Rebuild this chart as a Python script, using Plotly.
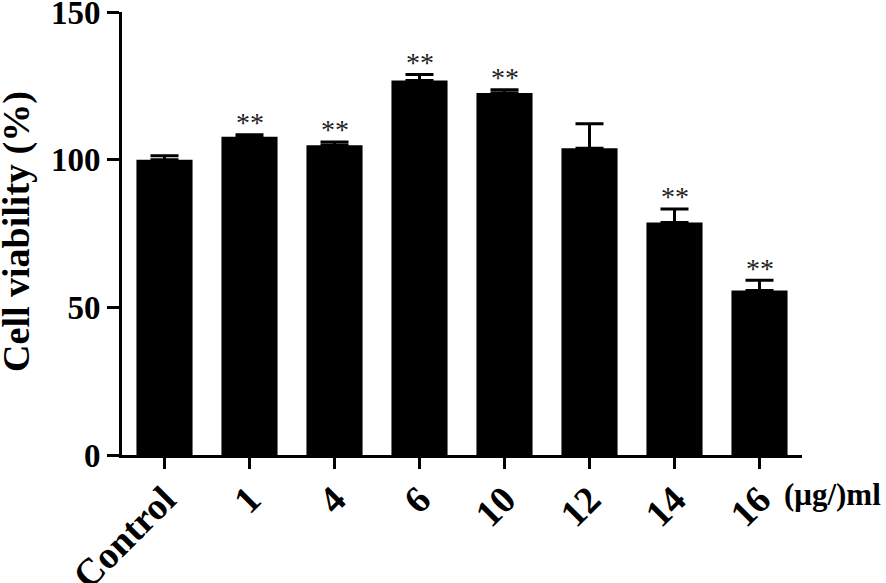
import plotly.graph_objects as go

# Data
groups = ["Control", "1", "4", "6", "10", "12", "14", "16"]
viability = [100.0, 107.8, 104.9, 126.8, 122.6, 103.9, 78.7, 55.7]
sd = [1.3, 0.6, 1.1, 2.0, 1.1, 8.3, 4.6, 3.5]
marks = ["", "**", "**", "**", "**", "", "**", "**"]
y_ticks = [0, 50, 100, 150]

serif = "Liberation Serif, Times New Roman, serif"

fig = go.Figure()

fig.add_trace(
    go.Bar(
        x=list(range(len(groups))),
        y=viability,
        width=0.66,
        marker=dict(color="black", line=dict(width=0)),
        error_y=dict(
            type="data",
            symmetric=False,
            array=sd,
            arrayminus=[0] * len(sd),
            color="black",
            thickness=3,
            width=14,
        ),
        showlegend=False,
    )
)

# significance stars above the error bars
for i, (v, e, m) in enumerate(zip(viability, sd, marks)):
    if m:
        fig.add_annotation(
            x=i,
            y=v + e,
            text=m,
            showarrow=False,
            yanchor="middle",
            yshift=12,
            font=dict(family=serif, size=28, color="#222"),
        )

# unit label next to the last tick
fig.add_annotation(
    xref="paper",
    yref="paper",
    x=1.0,
    y=-0.09,
    xanchor="right",
    yanchor="middle",
    xshift=81,
    text="(μg/)ml",
    showarrow=False,
    font=dict(family=serif, size=31, color="black", weight="bold"),
)

# y axis title, placed by hand at the left edge
fig.add_annotation(
    xref="paper",
    yref="paper",
    x=-0.155,
    y=0.505,
    xanchor="center",
    yanchor="middle",
    textangle=-90,
    text="Cell viability (%)",
    showarrow=False,
    font=dict(family=serif, size=38, color="black", weight="bold"),
)

fig.update_layout(
    width=886,
    height=583,
    paper_bgcolor="white",
    plot_bgcolor="white",
    margin=dict(l=122, r=84, t=12, b=128),
    xaxis=dict(
        range=[-0.5, 7.5],
        tickvals=list(range(len(groups))),
        ticktext=groups,
        showline=True,
        linecolor="black",
        linewidth=3,
        ticks="outside",
        ticklen=11,
        tickwidth=3,
        tickcolor="black",
        tickangle=-45,
        ticklabelstandoff=-7,
        tickfont=dict(family=serif, size=38, color="black", weight="bold"),
        showgrid=False,
        zeroline=False,
        automargin=False,
    ),
    yaxis=dict(
        range=[0, 150],
        tickvals=y_ticks,
        showline=True,
        linecolor="black",
        linewidth=3,
        ticks="outside",
        ticklen=12,
        tickwidth=3,
        tickcolor="black",
        ticklabeloverflow="allow",
        tickfont=dict(family=serif, size=33, color="black", weight="bold"),
        showgrid=False,
        zeroline=False,
        automargin=False,
    ),
)

# drop the page's default body margin so the figure fills the window
fig.write_html(
    "out.html",
    config={"displayModeBar": False},
    post_script="document.body.style.margin='0';",
)
